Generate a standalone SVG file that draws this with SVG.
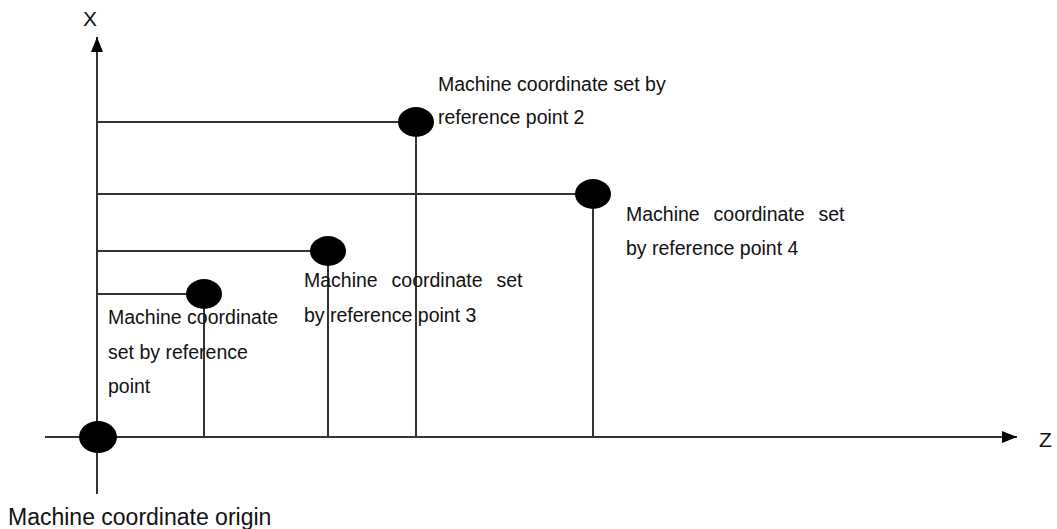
<svg xmlns="http://www.w3.org/2000/svg" width="1057" height="529" viewBox="0 0 1057 529">
<style>
.ln{stroke:#333;stroke-width:2;fill:none}
.dot{fill:#000}
.t{font-family:"Liberation Sans",Arial,sans-serif;font-size:19.5px;fill:#111}
.ws{word-spacing:1.5px}
.big{font-family:"Liberation Sans",Arial,sans-serif;font-size:23px;fill:#111}
</style>
<defs>
<marker id="ah" markerWidth="15" markerHeight="12" refX="15" refY="6" orient="auto" markerUnits="userSpaceOnUse">
<path d="M0,0 L15,6 L0,12 Z" fill="#000"/>
</marker>
</defs>
<g id="connectors">
<line class="ln" x1="97" y1="494" x2="97" y2="37" marker-end="url(#ah)"/>
<line class="ln" x1="45" y1="437" x2="1017" y2="437" marker-end="url(#ah)"/>
<polyline class="ln" points="97,294 204,294 204,437"/>
<polyline class="ln" points="97,122 416,122 416,437"/>
<polyline class="ln" points="97,251 328,251 328,437"/>
<polyline class="ln" points="97,194 593,194 593,437"/>
</g>
<g id="axis-x"><text class="t" x="83" y="26" style="font-size:21px">X</text></g>
<g id="axis-z"><text class="t" x="1039" y="447" style="font-size:21px">Z</text></g>
<g id="origin">
<ellipse class="dot" cx="98" cy="437" rx="19" ry="16"/>
<text class="big" x="8" y="525">Machine coordinate origin</text>
</g>
<g id="point1">
<ellipse class="dot" cx="204" cy="294" rx="18" ry="15"/>
<text class="t" x="108" y="324">Machine coordinate</text>
<text class="t" x="108" y="359">set by reference</text>
<text class="t" x="108" y="393">point</text>
</g>
<g id="point2">
<ellipse class="dot" cx="416" cy="122" rx="18" ry="15"/>
<text class="t" x="438" y="91">Machine coordinate set by</text>
<text class="t" x="438" y="124">reference point 2</text>
</g>
<g id="point3">
<ellipse class="dot" cx="328" cy="251" rx="18" ry="15"/>
<text class="t ws" x="304" y="287" xml:space="preserve">Machine  coordinate  set</text>
<text class="t" x="304" y="322">by reference point 3</text>
</g>
<g id="point4">
<ellipse class="dot" cx="593" cy="194" rx="18" ry="15"/>
<text class="t ws" x="626" y="221" xml:space="preserve">Machine  coordinate  set</text>
<text class="t" x="626" y="255">by reference point 4</text>
</g>
</svg>
